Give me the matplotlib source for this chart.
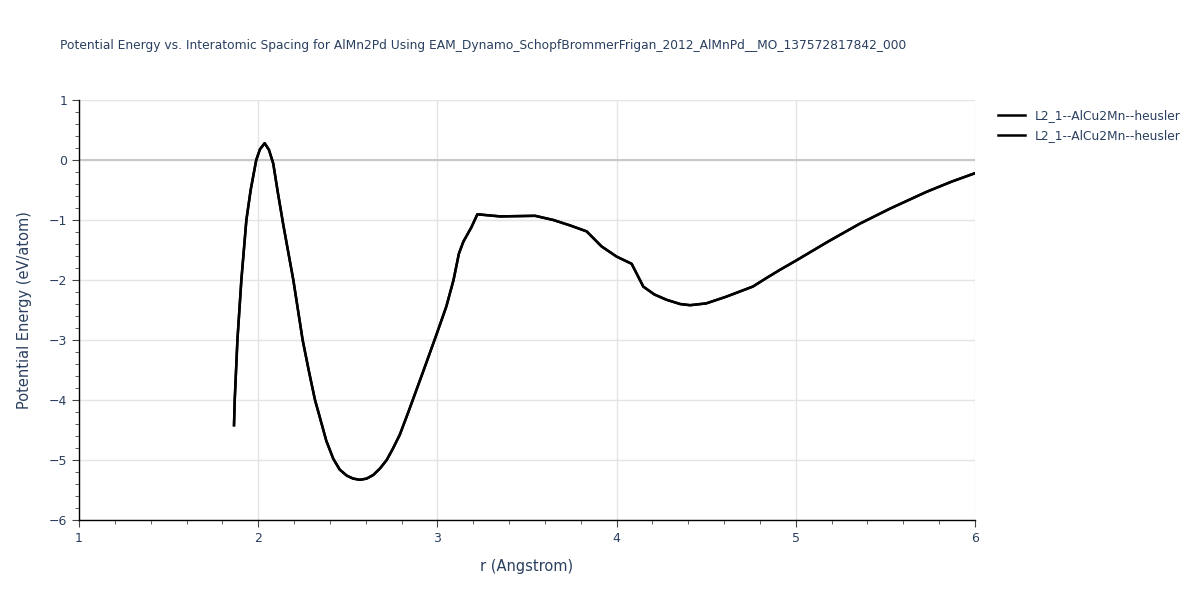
import matplotlib.pyplot as plt
from matplotlib.ticker import MultipleLocator

# data
r = [1.865, 1.869, 1.884, 1.906, 1.934, 1.958, 1.989, 2.01, 2.036, 2.06,
     2.084, 2.11, 2.14, 2.196, 2.248, 2.285, 2.317, 2.345, 2.38, 2.419,
     2.455, 2.494, 2.53, 2.568, 2.605, 2.642, 2.68, 2.717, 2.75, 2.79, 2.838,
     2.92, 2.996, 3.05, 3.09, 3.12, 3.145, 3.19, 3.223, 3.35, 3.45, 3.545,
     3.647, 3.74, 3.833, 3.916, 4.0, 4.084, 4.149, 4.21, 4.279, 4.354, 4.41,
     4.5, 4.61, 4.76, 4.84, 4.912, 5.005, 5.18, 5.358, 5.526, 5.73, 5.87, 6.0]
energy = [-4.42, -4.0, -3.0, -2.0, -1.0, -0.5, 0.0, 0.18, 0.28, 0.17,
          -0.06, -0.55, -1.08, -2.0, -3.0, -3.55, -4.0, -4.3, -4.68, -4.98,
          -5.16, -5.26, -5.31, -5.33, -5.31, -5.25, -5.14, -5.0, -4.82, -4.58,
          -4.2, -3.53, -2.9, -2.44, -2.0, -1.56, -1.36, -1.12, -0.905, -0.94,
          -0.935, -0.93, -1.0, -1.09, -1.19, -1.44, -1.61, -1.73, -2.11, -2.24,
          -2.33, -2.40, -2.42, -2.39, -2.28, -2.11, -1.96, -1.83, -1.67, -1.36,
          -1.06, -0.81, -0.53, -0.36, -0.22]
series_names = ["L2_1--AlCu2Mn--heusler", "L2_1--AlCu2Mn--heusler"]

title = ("Potential Energy vs. Interatomic Spacing for AlMn2Pd Using "
         "EAM_Dynamo_SchopfBrommerFrigan_2012_AlMnPd__MO_137572817842_000")

text_col = '#2a3f5f'
plt.rcParams['font.family'] = ['DejaVu Sans']

fig = plt.figure(figsize=(12, 6), dpi=100)
ax = fig.add_axes([79 / 1200, 80 / 600, 896 / 1200, 420 / 600])

for name in series_names:
    ax.plot(r, energy, color='black', linewidth=1.8, label=name)

ax.set_xlim(1, 6)
ax.set_ylim(-6, 1)
ax.xaxis.set_major_locator(MultipleLocator(1))
ax.xaxis.set_minor_locator(MultipleLocator(0.2))
ax.yaxis.set_major_locator(MultipleLocator(1))
ax.yaxis.set_minor_locator(MultipleLocator(0.2))

ax.grid(True, which='major', color='#e5e5e5', linewidth=1)
ax.axhline(0, color='#c8c8c8', linewidth=1.5, zorder=1)
ax.set_axisbelow(True)

for side in ['top', 'right']:
    ax.spines[side].set_visible(False)
for side in ['left', 'bottom']:
    ax.spines[side].set_color('black')
    ax.spines[side].set_linewidth(1)

ax.tick_params(which='major', direction='out', length=5, color='#444444',
               labelsize=9, labelcolor=text_col)
ax.tick_params(which='minor', direction='out', length=3, color='#444444')
ax.set_yticklabels([f"{int(v)}".replace('-', '\u2212') for v in ax.get_yticks()])

ax.set_xlabel("r (Angstrom)", fontsize=10.5, color=text_col, labelpad=10)
ax.set_ylabel("Potential Energy (eV/atom)", fontsize=10.5, color=text_col, labelpad=12)

fig.text(60 / 1200, 1 - 45 / 600, title, fontsize=8.8, color=text_col,
         ha='left', va='center')

ax.legend(loc='upper left', bbox_to_anchor=(1.02, 0.99), frameon=False,
          fontsize=8.8, labelcolor=text_col, handlelength=2.2,
          borderaxespad=0, labelspacing=0.55)

fig.savefig('out.png', dpi=100)
